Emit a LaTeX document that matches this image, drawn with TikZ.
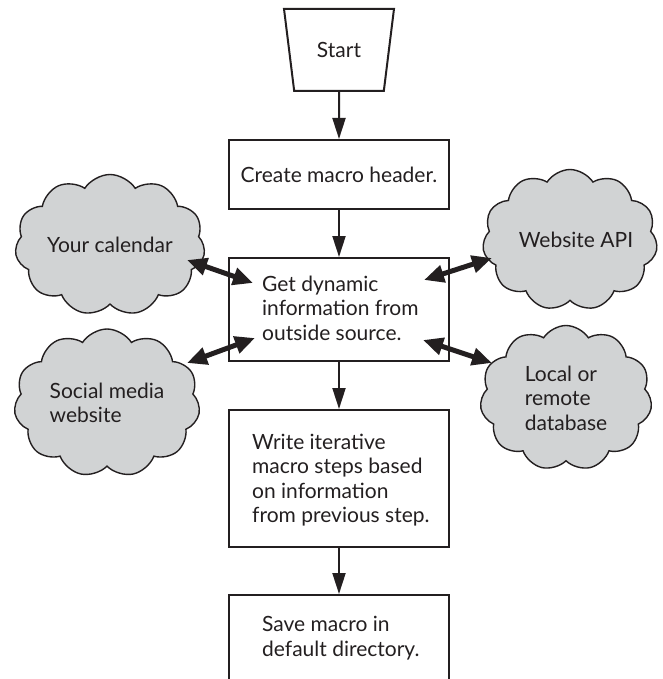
\documentclass[tikz,border=0pt]{standalone}
\usepackage{fontspec}
\setmainfont{Lato}
\usetikzlibrary{arrows.meta,shapes.geometric,shapes.symbols}
\definecolor{cloudgray}{RGB}{209,211,212}
\definecolor{ink}{RGB}{35,31,32}
\begin{document}
\begin{tikzpicture}[x=1pt,y=-1pt,
  txt/.style={font=\fontsize{21}{24.5}\selectfont,text=ink,inner sep=0pt,align=left},
  box/.style={draw=ink,line width=2pt,minimum width=220pt,inner sep=0pt},
  cloudbox/.style={cloud,cloud puffs=11,cloud puff arc=115,cloud ignores aspect,draw=ink,line width=1.4pt,fill=cloudgray,inner sep=0pt,font=\fontsize{21}{24.5}\selectfont,text=ink,align=left},
  varrow/.style={draw=ink,line width=2pt,-{Triangle[length=21pt,width=13pt]}},
  dblarrow/.style={draw=ink,line width=5pt,{Triangle[length=20pt,width=17pt]}-{Triangle[length=20pt,width=17pt]}}]
\useasboundingbox (0,0) rectangle (662,679);
\clip (0,0) rectangle (662,679);
% start
\node[shape=trapezium,shape border rotate=180,trapezium stretches=true,
  minimum width=110pt,minimum height=82pt,trapezium left angle=72,trapezium right angle=72,
  draw=ink,line width=2pt,inner sep=0pt,font=\fontsize{21}{24.5}\selectfont,text=ink] (start) at (339,50) {Start};
% boxes
\node[box,minimum height=69pt] (b1) at (339,174.5) {};
\node[txt] (b1t) at (339,175) {Create macro header.};
\node[box,minimum height=103pt] (b2) at (339,309.5) {};
\node[txt,anchor=west] (b2t) at (262,308) {Get dynamic\\information from\\outside source.};
\node[box,minimum height=137pt] (b3) at (339,478.5) {};
\node[txt,anchor=west] (b3t) at (252,480) {Write iterative\\macro steps based\\on information\\from previous step.};
\node[box,minimum height=88pt] (b4) at (339,639) {};
\node[txt,anchor=west] (b4t) at (262,638) {Save macro in\\default directory.};
% clouds
\node[cloudbox,minimum width=190pt,minimum height=141pt] (cal) at (110,245) {Your calendar};
\node[cloudbox,minimum width=175pt,minimum height=141pt] (api) at (570,240) {\hspace*{12pt}Website API};
\node[cloudbox,minimum width=186pt,minimum height=148pt] (soc) at (107,403) {Social media\\website};
\node[cloudbox,minimum width=172pt,minimum height=145pt] (db) at (566,398) {Local or\\remote\\database};
% vertical arrows
\draw[varrow] (start.south) -- (b1.north);
\draw[varrow] (b1.south) -- (b2.north);
\draw[varrow] (b2.south) -- (b3.north);
\draw[varrow] (b3.south) -- (b4.north);
% double arrows
\coordinate (calend) at (187,260);
\coordinate (b2a) at (253,283);
\coordinate (apiend) at (492,258);
\coordinate (b2b) at (424,280);
\coordinate (socend) at (187,363);
\coordinate (b2c) at (255,338);
\coordinate (dbend) at (492,363);
\coordinate (b2d) at (423,340);
\draw[dblarrow] (calend) -- (b2a);
\draw[dblarrow] (b2b) -- (apiend);
\draw[dblarrow] (socend) -- (b2c);
\draw[dblarrow] (b2d) -- (dbend);
\end{tikzpicture}
\end{document}
